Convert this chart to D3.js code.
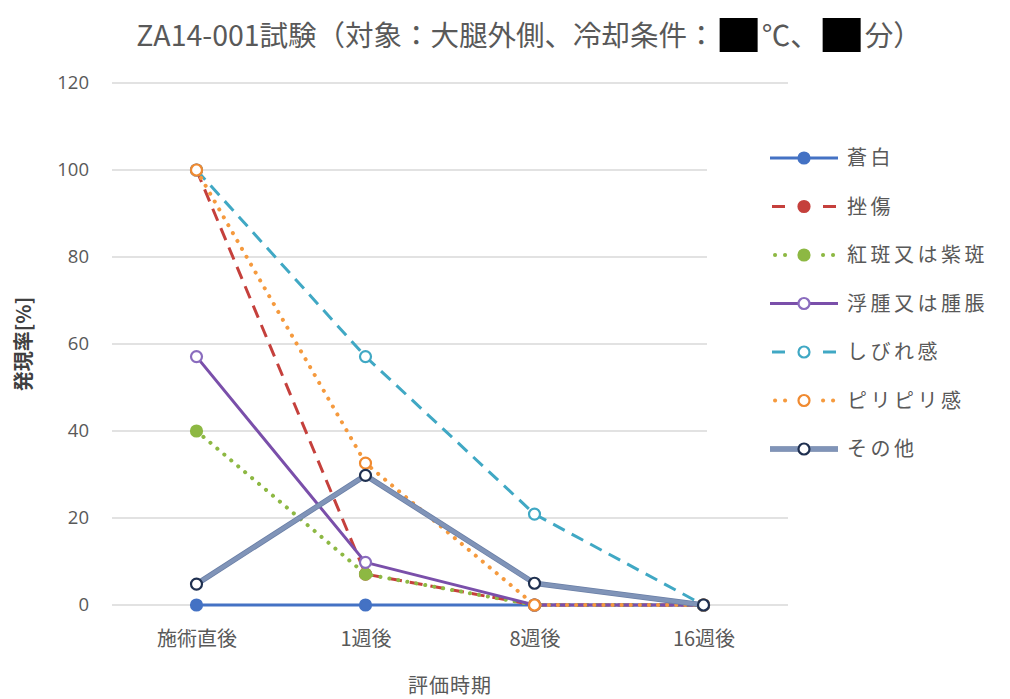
<!DOCTYPE html>
<html lang="ja">
<head>
<meta charset="utf-8">
<script src="https://cdn.jsdelivr.net/npm/d3@7"></script>
<style>
  html, body { margin: 0; padding: 0; background: #fff; }
  svg { display: block; font-family: "Noto Sans CJK JP", "Noto Sans", sans-serif; }
</style>
</head>
<body>
<svg id="chart" width="1010" height="699"></svg>
<script>
// Evaluation time points
const categories = ["施術直後", "1週後", "8週後", "16週後"];

// Incidence rate (%) per symptom at each time point
const seriesNames = ["蒼白", "挫傷", "紅斑又は紫斑", "浮腫又は腫脹", "しびれ感", "ピリピリ感", "その他"];
const paleness   = [0, 0, 0, 0];
const bruise     = [100, 7.1, 0, 0];
const erythema   = [40, 7.1, 0, 0];
const edema      = [57.1, 9.8, 0, 0];
const numbness   = [100, 57.1, 20.9, 0];
const tingling   = [100, 32.6, 0, 0];
const other      = [4.8, 29.8, 5, 0];

const yTicks = [0, 20, 40, 60, 80, 100, 120];

// Title pieces; null marks a blacked-out value
const titleParts = ["ZA14-001試験（対象：大腿外側、冷却条件：", null, "℃、", null, "分）"];

const styles = [
  { color: "#4472C4", kind: "solid",  width: 3, fill: "#4472C4", mstroke: "#4472C4" },
  { color: "#C5403C", kind: "dash",   width: 3, fill: "#C5403C", mstroke: "#C5403C" },
  { color: "#8DB843", kind: "dot",    width: 4, fill: "#8DB843", mstroke: "#8DB843" },
  { color: "#7A4FAA", kind: "solid",  width: 3, fill: "#ffffff", mstroke: "#8A6CBE" },
  { color: "#40A8C4", kind: "dash",   width: 3, fill: "#ffffff", mstroke: "#40A8C4" },
  { color: "#F59A3E", kind: "dot",    width: 4, fill: "#ffffff", mstroke: "#F08A30" },
  { color: "#8094B8", kind: "solid",  width: 4, fill: "#ffffff", mstroke: "#1F3050", outline: "#6A7FA6" }
];
const dashArray = { solid: null, dash: "13,8", dot: "0.1,9" };
const lineCap = { solid: "butt", dash: "butt", dot: "round" };

const seriesValues = [paleness, bruise, erythema, edema, numbness, tingling, other];
const series = seriesNames.map((name, i) => ({ name, values: seriesValues[i], style: styles[i] }));

const svg = d3.select("#chart");

const x = d3.scalePoint().domain(categories).range([112, 788]).padding(0.5);
const y = d3.scaleLinear().domain([0, 120]).range([605, 83]);

// Gridlines
svg.append("g")
  .selectAll("line")
  .data(yTicks)
  .join("line")
  .attr("x1", 112).attr("x2", 788)
  .attr("y1", d => y(d)).attr("y2", d => y(d))
  .attr("stroke", "#D9D9D9")
  .attr("stroke-width", 1.5);

// Y axis labels
const yAxis = d3.axisLeft(y).tickValues(yTicks).tickSize(0).tickPadding(0);
const yg = svg.append("g").attr("transform", "translate(89,0)").call(yAxis);
yg.select(".domain").remove();
yg.selectAll("text")
  .attr("font-family", "'Open Sans', 'Noto Sans', sans-serif")
  .attr("font-size", 18.5)
  .attr("fill", "#595959");

// X axis labels
const xAxis = d3.axisBottom(x).tickSize(0).tickPadding(0);
const xg = svg.append("g").attr("transform", "translate(0,632)").call(xAxis);
xg.select(".domain").remove();
xg.selectAll("text")
  .attr("font-family", "'Noto Sans CJK JP', sans-serif")
  .attr("font-size", 20)
  .attr("fill", "#595959");

// Axis titles
svg.append("text")
  .attr("x", 450).attr("y", 693)
  .attr("text-anchor", "middle")
  .attr("font-size", 20)
  .attr("letter-spacing", 1)
  .attr("fill", "#595959")
  .text("評価時期");

svg.append("text")
  .attr("transform", "translate(31,344) rotate(-90)")
  .attr("text-anchor", "middle")
  .attr("font-size", 20)
  .attr("font-weight", "bold")
  .attr("fill", "#404040")
  .text("発現率[%]");

// Legend background hides gridlines behind it
svg.append("rect")
  .attr("x", 707).attr("y", 125).attr("width", 303).attr("height", 355)
  .attr("fill", "#fff");

// Series lines and markers
const line = d3.line().x((d, i) => x(categories[i])).y(d => y(d));

series.forEach(s => {
  const g = svg.append("g");
  const st = s.style;
  if (st.outline) {
    g.append("path")
      .attr("d", line(s.values))
      .attr("fill", "none")
      .attr("stroke", st.outline)
      .attr("stroke-width", st.width + 1.5)
      .attr("stroke-linejoin", "round");
  }
  g.append("path")
    .attr("d", line(s.values))
    .attr("fill", "none")
    .attr("stroke", st.color)
    .attr("stroke-width", st.width)
    .attr("stroke-dasharray", dashArray[st.kind])
    .attr("stroke-linecap", lineCap[st.kind])
    .attr("stroke-linejoin", "round");
  g.selectAll("circle")
    .data(s.values)
    .join("circle")
    .attr("cx", (d, i) => x(categories[i]))
    .attr("cy", d => y(d))
    .attr("r", 5.5)
    .attr("fill", st.fill)
    .attr("stroke", st.mstroke)
    .attr("stroke-width", 2.2);
});

// Legend
const legend = svg.append("g");
const segs = {
  solid: [[770, 838]],
  dash: [[772, 785], [823, 836]],
  dot: [[775, 775], [785, 785], [823, 823], [833, 833]]
};
series.forEach((s, i) => {
  const st = s.style;
  const ly = 158 + i * 48.5;
  const g = legend.append("g").attr("transform", `translate(0,${ly})`);
  segs[st.kind].forEach(([a, b]) => {
    if (st.outline) {
      g.append("line").attr("x1", a).attr("x2", b).attr("y1", 0).attr("y2", 0)
        .attr("stroke", st.outline).attr("stroke-width", st.width + 1.5);
    }
    g.append("line")
      .attr("x1", a).attr("x2", b + (st.kind === "dot" ? 0.1 : 0))
      .attr("y1", 0).attr("y2", 0)
      .attr("stroke", st.color)
      .attr("stroke-width", st.width)
      .attr("stroke-linecap", lineCap[st.kind]);
  });
  g.append("circle")
    .attr("cx", 804).attr("cy", 0).attr("r", 5.5)
    .attr("fill", st.fill)
    .attr("stroke", st.mstroke)
    .attr("stroke-width", 2.2);
  g.append("text")
    .attr("x", 847).attr("y", 0)
    .attr("dy", "0.36em")
    .attr("font-size", 20)
    .attr("letter-spacing", 3.5)
    .attr("fill", "#595959")
    .text(s.name);
});

// Title with redacted values
const title = svg.append("g");
const titleSize = 28.5;
const boxW = 38, boxGap = 4;
const pieces = [];
titleParts.forEach(p => {
  if (p === null) {
    pieces.push({ box: true, w: boxW + boxGap * 2 });
  } else {
    const t = title.append("text")
      .attr("y", 46)
      .attr("font-size", titleSize)
      .attr("fill", "#595959")
      .text(p);
    pieces.push({ box: false, node: t, w: t.node().getComputedTextLength() });
  }
});
const totalW = d3.sum(pieces, d => d.w);
let cx = 529 - totalW / 2;
pieces.forEach(p => {
  if (p.box) {
    title.append("rect")
      .attr("x", cx + boxGap).attr("y", 18)
      .attr("width", boxW).attr("height", 34)
      .attr("fill", "#000");
  } else {
    p.node.attr("x", cx);
  }
  cx += p.w;
});
</script>
</body>
</html>
